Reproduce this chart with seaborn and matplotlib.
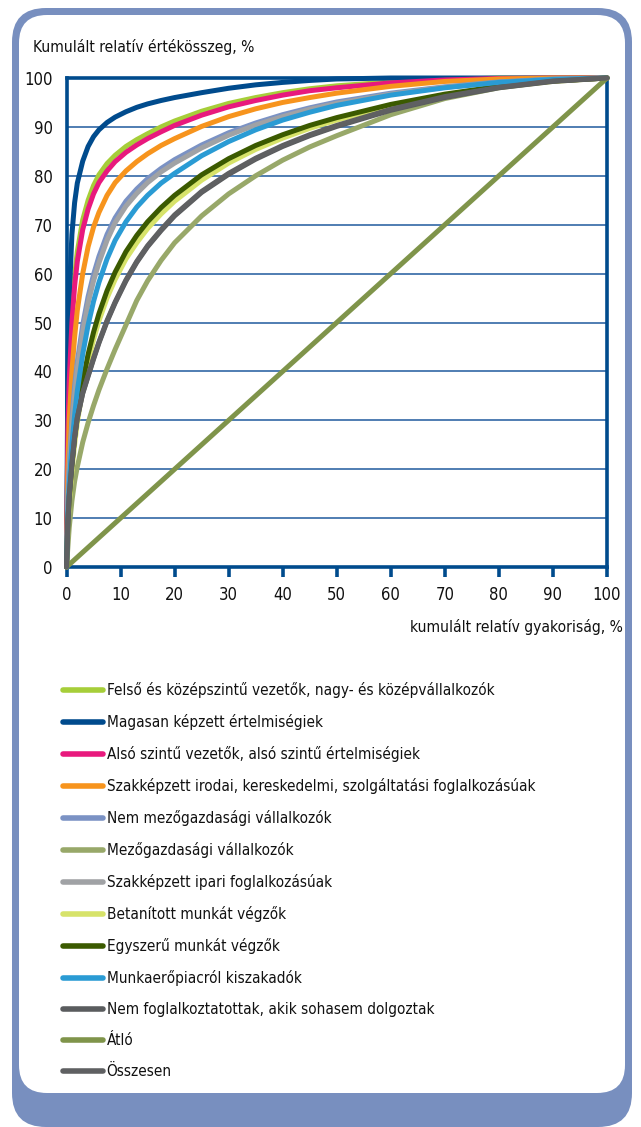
import pandas as pd
import seaborn as sns
import matplotlib.pyplot as plt
from matplotlib.patches import FancyBboxPatch

# Data
gyak = [0, 0.25, 0.5, 1, 1.5, 2, 3, 4, 5, 6, 7.5, 9, 11, 13, 15, 17.5, 20,
        25, 30, 35, 40, 45, 50, 60, 70, 80, 90, 100]

felso = [0, 28, 40, 52, 59.5, 64.5, 71, 75, 78, 80.2, 82.5, 84.2, 86, 87.4, 88.6, 90, 91.2,
         93.2, 94.8, 96, 97, 97.8, 98.4, 99.2, 99.7, 100, 100, 100]
magasan = [0, 40, 55, 68, 74.5, 78.5, 83, 86, 88, 89.4, 90.9, 92, 93.1, 94, 94.7, 95.4, 96,
           97, 97.9, 98.6, 99.1, 99.5, 99.8, 100, 100, 100, 100, 100]
also = [0, 28, 38, 50, 57.5, 62.5, 69, 73.2, 76.3, 78.6, 81, 82.9, 84.8, 86.3, 87.6, 89, 90.3,
        92.4, 94.1, 95.4, 96.5, 97.4, 98, 99, 99.6, 99.9, 100, 100]
irodai = [0, 20, 30, 40, 47, 52.5, 60, 65.5, 69.5, 72.5, 76, 78.6, 81, 82.9, 84.5, 86.2, 87.6,
          90.1, 92.1, 93.7, 95, 96, 96.9, 98.3, 99.3, 99.8, 100, 100]
nem_mezog = [0, 14, 21, 30, 37, 42, 49.5, 55.3, 59.8, 63.5, 68, 71.4, 74.8, 77.3, 79.4, 81.5, 83.3,
             86.3, 88.8, 90.8, 92.5, 93.9, 95.1, 96.9, 98.2, 99.2, 99.8, 100]
mezog = [0, 4, 8, 13.5, 17.5, 20.5, 25.5, 29.5, 33, 36.2, 40.5, 44.5, 49.5, 54.5, 58.5, 62.7, 66.3,
         71.8, 76.3, 80, 83.2, 85.9, 88.2, 92.5, 95.8, 98, 99.4, 100]
ipari = [0, 13, 19.5, 28.5, 35, 40.5, 48, 54, 58.5, 62.2, 66.8, 70.4, 73.8, 76.4, 78.6, 80.8, 82.6,
         85.7, 88.3, 90.4, 92.1, 93.6, 94.8, 96.7, 98.1, 99.1, 99.7, 100]
betanitott = [0, 8.5, 13, 19.5, 25, 29.5, 36.5, 42, 46.5, 50.3, 55, 58.8, 63, 66.3, 69.2, 72.2, 74.8,
              79.1, 82.6, 85.4, 87.7, 89.7, 91.4, 94.2, 96.4, 98.1, 99.3, 100]
egyszeru = [0, 9, 14, 21, 26.5, 31, 38, 43.5, 48, 51.8, 56.5, 60.3, 64.5, 67.8, 70.6, 73.5, 76,
            80.2, 83.5, 86.2, 88.4, 90.3, 91.9, 94.6, 96.7, 98.3, 99.4, 100]
kiszakadok = [0, 11, 17, 25, 31, 36, 43.5, 49.5, 54.3, 58.2, 63, 66.8, 70.6, 73.6, 76, 78.5, 80.5,
              84.1, 87, 89.4, 91.4, 93, 94.4, 96.5, 98, 99.1, 99.7, 100]
nem_fogl = [0, 9, 14.5, 21, 26.5, 30.5, 35.5, 39, 42.5, 45.8, 50.2, 54, 58.5, 62.3, 65.5, 68.8, 71.8,
            76.6, 80.3, 83.4, 86, 88.2, 90.1, 93.4, 96, 98, 99.3, 100]
atlo = [0, 0.25, 0.5, 1, 1.5, 2, 3, 4, 5, 6, 7.5, 9, 11, 13, 15, 17.5, 20,
        25, 30, 35, 40, 45, 50, 60, 70, 80, 90, 100]
osszesen = [0, 9, 14.5, 21, 26.5, 30.5, 35.6, 39.2, 42.7, 46, 50.4, 54.2, 58.7, 62.5, 65.7, 69, 72,
            76.8, 80.5, 83.6, 86.2, 88.4, 90.3, 93.6, 96.2, 98.1, 99.4, 100]

labels = ['Felső és középszintű vezetők, nagy- és középvállalkozók',
          'Magasan képzett értelmiségiek',
          'Alsó szintű vezetők, alsó szintű értelmiségiek',
          'Szakképzett irodai, kereskedelmi, szolgáltatási foglalkozásúak',
          'Nem mezőgazdasági vállalkozók',
          'Mezőgazdasági vállalkozók',
          'Szakképzett ipari foglalkozásúak',
          'Betanított munkát végzők',
          'Egyszerű munkát végzők',
          'Munkaerőpiacról kiszakadók',
          'Nem foglalkoztatottak, akik sohasem dolgoztak',
          'Átló',
          'Összesen']
series = [felso, magasan, also, irodai, nem_mezog, mezog, ipari,
          betanitott, egyszeru, kiszakadok, nem_fogl, atlo, osszesen]
colors = ['#a6ce39', '#004b8d', '#e8197d', '#f7941d', '#7b92c4', '#98a869',
          '#a0a2a5', '#d7e36a', '#3b5a00', '#2a9bd4', '#5a5c5e', '#7f944a', '#5f6062']

df = pd.concat([pd.DataFrame({'x': gyak, 'y': s, 'csoport': lab})
                for s, lab in zip(series, labels)], ignore_index=True)

sns.set_style('white')
plt.rcParams['font.family'] = ['DejaVu Sans']
plt.rcParams['font.stretch'] = 'condensed'
plt.rcParams['text.color'] = '#111111'

W, H = 641, 1127
fig = plt.figure(figsize=(W / 100, H / 100), dpi=100)

# rounded frame (pixel coordinates)
bg = fig.add_axes([0, 0, 1, 1], zorder=-1)
bg.set_xlim(0, W)
bg.set_ylim(H, 0)
bg.axis('off')
frame_col = '#788fbf'
bg.add_patch(FancyBboxPatch((12 + 34, 8 + 34), 620 - 68, 1119 - 68,
                            boxstyle='round,pad=34', fc=frame_col, ec='none'))
bg.add_patch(FancyBboxPatch((19 + 28, 15 + 28), 606 - 56, 1078 - 56,
                            boxstyle='round,pad=28', fc='white', ec='none'))


def px(x, y):
    return x / W, 1 - y / H


ax = fig.add_axes([66.5 / W, 1 - 567 / H, 540.5 / W, 489 / H])
blue = '#004b8d'
sns.lineplot(data=df, x='x', y='y', hue='csoport', hue_order=labels,
             palette=colors, linewidth=3.6, estimator=None, ax=ax)
for ln in ax.lines:
    ln.set_clip_on(False)
    ln.set_solid_capstyle('round')
    ln.set_solid_joinstyle('round')
    ln.set_zorder(3)

ax.set_xlim(0, 100)
ax.set_ylim(0, 100)
ax.set_xticks(range(0, 101, 10))
ax.set_yticks(range(0, 101, 10))
ax.set_xlabel('')
ax.set_ylabel('')
ax.grid(axis='y', color='#1f5a9e', linewidth=1.1)
ax.grid(axis='x', visible=False)
for sp in ax.spines.values():
    sp.set_visible(True)
    sp.set_color(blue)
    sp.set_linewidth(2.6)
ax.tick_params(axis='x', direction='out', length=7.5, width=2.6, color=blue,
               pad=6, labelsize=12, bottom=True, labelcolor='#111111')
ax.tick_params(axis='y', length=0, pad=10, labelsize=12, labelcolor='#111111')

handles, labs = ax.get_legend_handles_labels()
ax.get_legend().remove()
leg = fig.legend(handles, labs, loc='upper left', bbox_to_anchor=px(63, 682),
                 frameon=False, fontsize=11, handlelength=2.6,
                 handletextpad=0.25, labelspacing=1.048, borderpad=0,
                 borderaxespad=0)
for h in leg.legend_handles:
    h.set_linewidth(4)

fig.text(*px(33, 47), 'Kumulált relatív értékösszeg, %', fontsize=11.2,
         ha='left', va='center')
fig.text(*px(623, 627), 'kumulált relatív gyakoriság, %', fontsize=11.2,
         ha='right', va='center')

fig.savefig('out.png', dpi=100)
